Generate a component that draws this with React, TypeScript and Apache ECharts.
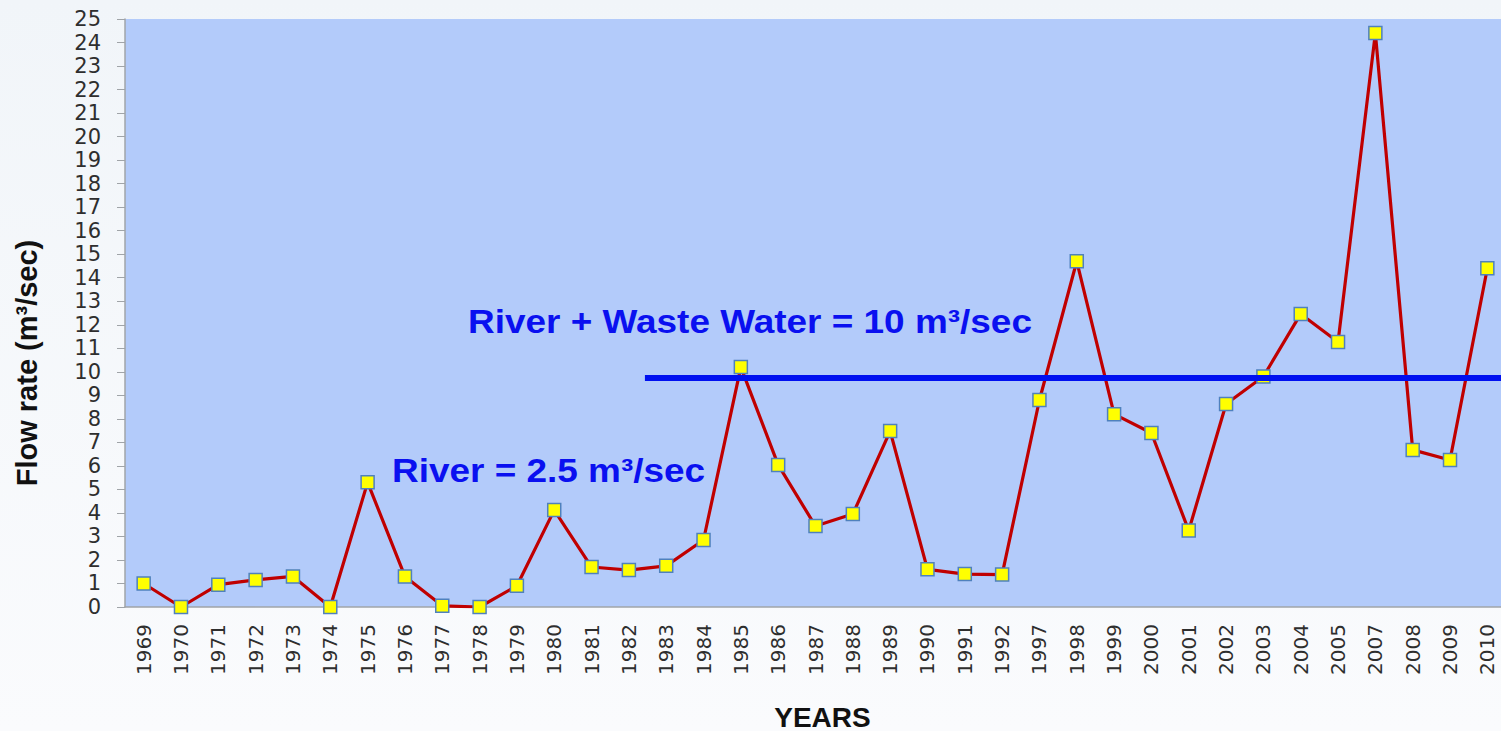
import React, { useEffect, useRef } from "react";
import * as echarts from "echarts";

const years = [
  "1969", "1970", "1971", "1972", "1973", "1974", "1975", "1976", "1977", "1978",
  "1979", "1980", "1981", "1982", "1983", "1984", "1985", "1986", "1987", "1988",
  "1989", "1990", "1991", "1992", "1997", "1998", "1999", "2000", "2001", "2002",
  "2003", "2004", "2005", "2007", "2008", "2009", "2010",
];
const flowRate = [
  1.0, 0.0, 0.95, 1.15, 1.3, 0.0, 5.3, 1.3, 0.05, 0.0,
  0.9, 4.12, 1.7, 1.57, 1.75, 2.85, 10.2, 6.04, 3.44, 3.95,
  7.48, 1.6, 1.4, 1.38, 8.8, 14.7, 8.2, 7.4, 3.25, 8.63,
  9.8, 12.46, 11.27, 24.4, 6.68, 6.25, 14.4,
];
// threshold line, x in category-band units (0 = left edge of 1969 band)
const thresholdX = [13.93, 37];
const thresholdY = [9.74, 9.74];
const yTicks = { min: 0, max: 25, interval: 1 };
const annotations = [
  { text: "River + Waste Water = 10 m³/sec", x: 468, y: 321 },
  { text: "River = 2.5 m³/sec", x: 392, y: 470 },
];
const yAxisTitle = "Flow rate (m³/sec)";
const xAxisTitle = "YEARS";

export default function App() {
  const ref = useRef<HTMLDivElement>(null);
  useEffect(() => {
    if (!ref.current) return;
    const chart = echarts.init(ref.current, null, { renderer: "svg" });
    chart.setOption({
      animation: false,
      backgroundColor: {
        type: "linear", x: 0, y: 0, x2: 0, y2: 1,
        colorStops: [
          { offset: 0, color: "#F1F5F9" },
          { offset: 1, color: "#FAFBFD" },
        ],
      },
      grid: {
        left: 125, top: 19, width: 1381, height: 588,
        show: true, backgroundColor: "#B3CBFA", borderWidth: 0,
        containLabel: false,
        outerBoundsMode: "none",
      },
      xAxis: [
        {
          type: "category",
          data: years,
          boundaryGap: true,
          name: xAxisTitle,
          nameLocation: "middle",
          nameGap: 96,
          nameTextStyle: { fontFamily: "Liberation Sans, Arial, sans-serif", fontWeight: "bold", fontSize: 28, color: "#111", padding: [0, 0, 0, 14] },
          axisLine: { lineStyle: { color: "#A0A4A8", width: 1.5 } },
          axisTick: { show: false },
          axisLabel: {
            rotate: 90, interval: 0, margin: 17,
            fontFamily: "DejaVu Sans, sans-serif", fontSize: 20, color: "#2E2E2E",
          },
          splitLine: { show: false },
        },
        {
          type: "value",
          min: 0, max: years.length,
          show: false,
          position: "top",
          splitLine: { show: false },
        },
      ],
      yAxis: {
        type: "value",
        min: yTicks.min, max: yTicks.max, interval: yTicks.interval,
        axisLine: { show: true, lineStyle: { color: "#A0A4A8", width: 1.5 } },
        axisTick: { show: true, length: 8, lineStyle: { color: "#A0A4A8" } },
        axisLabel: { margin: 24, fontFamily: "DejaVu Sans, sans-serif", fontSize: 21, color: "#2E2E2E" },
        splitLine: { show: false },
      },
      series: [
        {
          type: "line",
          xAxisIndex: 1,
          data: thresholdX.map((x, i) => [x, thresholdY[i]]),
          symbol: "none",
          lineStyle: { color: "#0010F0", width: 6 },
          z: 4,
          silent: true,
        },
        {
          type: "line",
          xAxisIndex: 0,
          data: flowRate,
          symbol: "rect",
          symbolSize: 13,
          lineStyle: { color: "#C00000", width: 3.2 },
          itemStyle: { color: "#FFFF00", borderColor: "#4F81BD", borderWidth: 1.5 },
          z: 3,
        },
      ],
      graphic: [
        ...annotations.map((a) => ({
          type: "text",
          x: a.x,
          y: a.y,
          scaleX: 1.12,
          z: 10,
          style: {
            text: a.text,
            fill: "#0A10F0",
            font: "bold 33px 'Liberation Sans', Arial, sans-serif",
            textVerticalAlign: "middle",
          },
        })),
        {
          type: "text",
          x: 27,
          y: 363,
          rotation: Math.PI / 2,
          z: 10,
          style: {
            text: yAxisTitle,
            fill: "#111",
            font: "bold 29px 'Liberation Sans', Arial, sans-serif",
            textAlign: "center",
            textVerticalAlign: "middle",
          },
        },
      ],
    });
    return () => chart.dispose();
  }, []);
  return (
    <div
      ref={ref}
      style={{ position: "fixed", left: 0, top: 0, width: 1501, height: 731 }}
    />
  );
}
